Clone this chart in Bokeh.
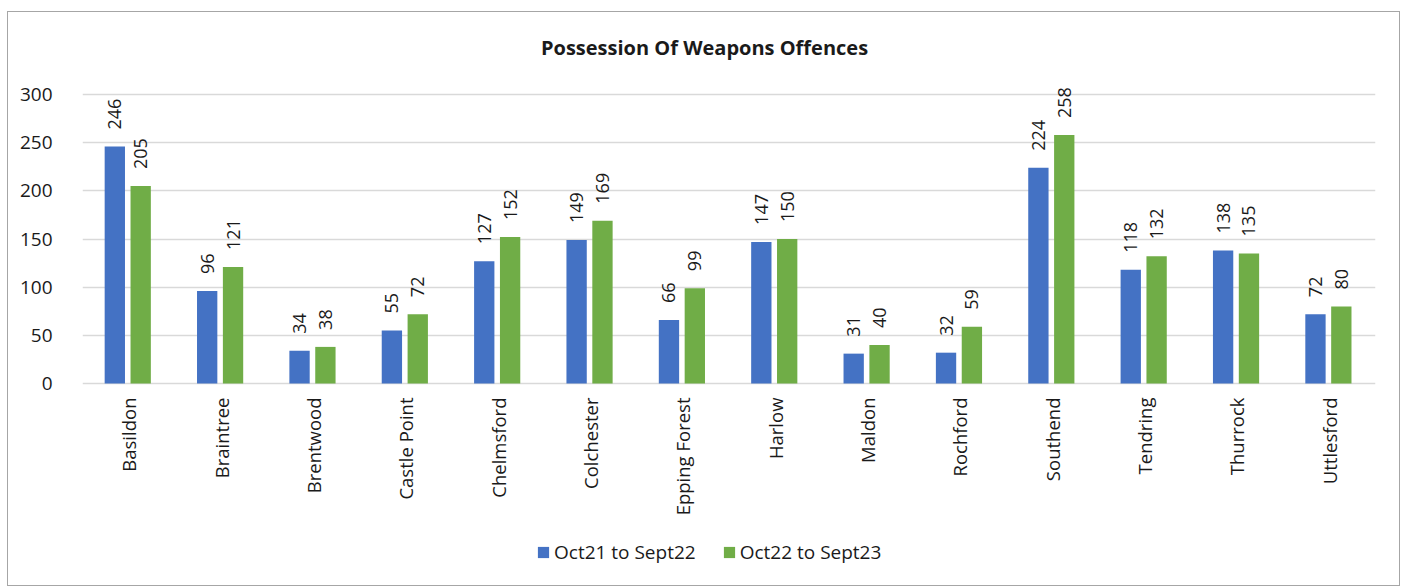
import math
from bokeh.plotting import figure
from bokeh.models import (ColumnDataSource, FactorRange, FixedTicker, LabelSet, Label,
                          Legend, LegendItem, Range1d)
from bokeh.transform import dodge
from bokeh.core.properties import value
from bokeh.embed import file_html
from bokeh.resources import INLINE

categories = ["Basildon", "Braintree", "Brentwood", "Castle Point", "Chelmsford",
              "Colchester", "Epping Forest", "Harlow", "Maldon", "Rochford",
              "Southend", "Tendring", "Thurrock", "Uttlesford"]
series1_name = "Oct21 to Sept22"
series2_name = "Oct22 to Sept23"
series1 = [246, 96, 34, 55, 127, 149, 66, 147, 31, 32, 224, 118, 138, 72]
series2 = [205, 121, 38, 72, 152, 169, 99, 150, 40, 59, 258, 132, 135, 80]
y_ticks = [0, 50, 100, 150, 200, 250, 300]
title_text = "Possession Of Weapons Offences"

FONT = "Open Sans"
BLUE = "#4472C4"
GREEN = "#70AD47"
TXT = "#1a1a1a"

src = ColumnDataSource(dict(
    cat=categories, v1=series1, v2=series2,
    t1=[str(v) for v in series1], t2=[str(v) for v in series2],
    base=[0] * len(categories),
))

# frame spans the whole chart box; y=0..300 lands on the plot area
p = figure(x_range=FactorRange(*categories, range_padding=0),
           y_range=Range1d(-211.76, 385.12),
           width=1393, height=575, output_backend="svg", toolbar_location=None,
           x_axis_location=None, title=None,
           min_border_left=74, min_border_right=26, min_border_top=0, min_border_bottom=0)
p.styles = {"border": "1px solid #a6a6a6", "margin-left": "7px", "margin-top": "11px"}
p.outline_line_color = None
p.background_fill_color = "white"
p.border_fill_color = "white"

r1 = p.vbar(x=dodge("cat", -0.15, range=p.x_range), top="v1", bottom="base", width=0.22,
            source=src, fill_color=BLUE, line_color=None)
r2 = p.vbar(x=dodge("cat", 0.13, range=p.x_range), top="v2", bottom="base", width=0.22,
            source=src, fill_color=GREEN, line_color=None)

for field, txt, off in (("v1", "t1", -0.15), ("v2", "t2", 0.13)):
    p.add_layout(LabelSet(x=dodge("cat", off, range=p.x_range), y=field, text=txt,
                          source=src, angle=math.pi / 2, text_align="left",
                          text_baseline="middle", y_offset=17, text_font=value(FONT),
                          text_font_size="18px", text_color=TXT))

# category labels under the plot area
p.add_layout(LabelSet(x="cat", y="base", text="cat", source=src, angle=math.pi / 2,
                      text_align="right", text_baseline="middle", y_offset=-14,
                      text_font=value(FONT), text_font_size="18.5px", text_color=TXT))

# y axis
p.yaxis.ticker = FixedTicker(ticks=y_ticks)
p.yaxis.axis_line_color = None
p.yaxis.major_tick_line_color = None
p.yaxis.minor_tick_line_color = None
p.yaxis.major_label_standoff = 24
p.yaxis.major_label_text_font = FONT
p.yaxis.major_label_text_font_size = "19px"
p.yaxis.major_label_text_color = TXT

p.xgrid.grid_line_color = None
p.ygrid.grid_line_color = "#d9d9d9"
p.ygrid.grid_line_width = 1.5
p.ygrid.ticker = FixedTicker(ticks=y_ticks)

# title
p.add_layout(Label(x=6.735, y=348.8, text=title_text, text_align="center",
                   text_baseline="middle", text_font=FONT, text_font_size="20px",
                   text_font_style="bold", text_color=TXT))

legend = Legend(items=[LegendItem(label=series1_name, renderers=[r1]),
                       LegendItem(label=series2_name, renderers=[r2])],
                orientation="horizontal", location=(454, 22),
                glyph_width=14, glyph_height=14, label_standoff=4, spacing=26,
                padding=0, margin=0, border_line_color=None,
                background_fill_alpha=0, label_text_font=FONT,
                label_text_font_size="19px", label_text_color=TXT)
p.add_layout(legend, "center")

open("out.html", "w").write(file_html(p, INLINE))
